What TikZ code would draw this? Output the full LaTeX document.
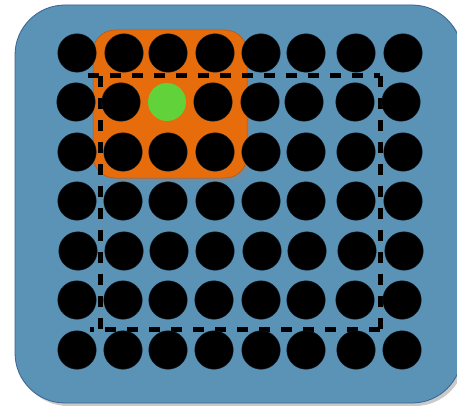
\documentclass[tikz,border=0pt]{standalone}
\definecolor{bgblue}{RGB}{91,147,183}
\definecolor{bgedge}{RGB}{58,98,145}
\definecolor{orangebox}{RGB}{230,108,12}
\definecolor{greendot}{RGB}{98,210,58}
\definecolor{shade}{RGB}{150,150,150}
\begin{document}
\begin{tikzpicture}[x=1pt,y=-1pt,
  dot/.style={circle,fill=black,draw=black!80!bgblue,line width=0.4pt,minimum size=38.5pt,inner sep=0pt},
  gdot/.style={circle,fill=greendot,minimum size=38pt,inner sep=0pt},
  dashline/.style={draw=black,line width=5pt,dash pattern=on 11pt off 11pt}]
\useasboundingbox[fill=white] (0,0) rectangle (457,406);
% board
\fill[shade!50,rounded corners=50pt] (18,8) rectangle (465,406);
\draw[fill=bgblue,draw=bgedge,line width=0.8pt,rounded corners=50pt] (15,5) rectangle (462,403);
% orange window
\fill[shade!90!black,opacity=0.5,rounded corners=22pt] (96,33) rectangle (250,181);
\draw[fill=orangebox,draw=orangebox!80!black,line width=0.5pt,rounded corners=22pt] (93,30) rectangle (247,178);
% dashed frame
\draw[dashline] (88,76) -- (380,76);
\draw[dashline] (380,76) -- (380,329);
\draw[dashline] (380,329) -- (90,329);
\draw[dashline] (100,329) -- (100,76);
% dots
\foreach \r/\y/\xs in {
  1/53/{77,124,168,215,261,306,356,403},
  2/102/{76,121,167,213,260,304,355,401},
  3/152/{77,123,168,215,261,306,356,403},
  4/201/{77,123,168,215,261,306,356,403},
  5/251/{78,124,169,215,262,307,357,404},
  6/300/{77,123,168,214,261,306,355,402},
  7/350/{77,123,168,214,261,306,356,402}}{
  \foreach \x [count=\c] in \xs {
    \ifnum\r=2 \ifnum\c=3
      \node[gdot] (d\r-\c) at (\x,\y) {};
    \else
      \node[dot] (d\r-\c) at (\x,\y) {};
    \fi\else
      \node[dot] (d\r-\c) at (\x,\y) {};
    \fi
  }
}
\end{tikzpicture}
\end{document}
